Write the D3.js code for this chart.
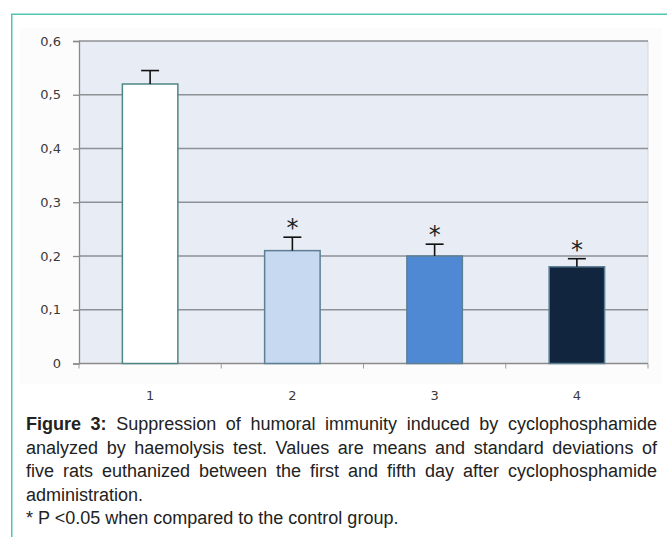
<!DOCTYPE html>
<html>
<head>
<meta charset="utf-8">
<script src="https://cdn.jsdelivr.net/npm/d3@7"></script>
<style>
  html, body { margin: 0; padding: 0; background: #ffffff; }
  svg { display: block; }
</style>
</head>
<body>
<svg id="chart" width="667" height="537"></svg>
<script>
// Haemolysis test results per group
const groups = ["1", "2", "3", "4"];
const means = [0.52, 0.21, 0.20, 0.18];
const sds = [0.025, 0.025, 0.022, 0.015];
const significant = [false, true, true, true];
const barColors = ["#ffffff", "#c6d9f1", "#4f88d3", "#11253f"];
const yTickValues = [0, 0.1, 0.2, 0.3, 0.4, 0.5, 0.6];
const yTickLabels = ["0", "0,1", "0,2", "0,3", "0,4", "0,5", "0,6"];

const captionLines = [
  { bold: "Figure 3:", text: " Suppression of humoral immunity induced by cyclophosphamide", justify: true },
  { bold: "", text: "analyzed by haemolysis test. Values are means and standard deviations of", justify: true },
  { bold: "", text: "five rats euthanized between the first and fifth day after cyclophosphamide", justify: true },
  { bold: "", text: "administration.", justify: false },
  { bold: "", text: "* P <0.05 when compared to the control group.", justify: false }
];

const svg = d3.select("#chart");

// Teal frame around the figure (top and left edges)
svg.append("path")
  .attr("d", "M11.75,537 V14.25 H667")
  .attr("fill", "none")
  .attr("stroke", "#52c4b2")
  .attr("stroke-width", 1.5);

// Faint chart area
svg.append("rect")
  .attr("x", 20).attr("y", 28).attr("width", 642).attr("height", 356)
  .attr("fill", "#fdfcfc");

const plot = { left: 79, right: 648, top: 41, bottom: 363.5 };

const x = d3.scaleBand()
  .domain(groups)
  .range([plot.left, plot.right])
  .paddingInner(0.61)
  .paddingOuter(0.305);

const y = d3.scaleLinear()
  .domain([0, 0.6])
  .range([plot.bottom, plot.top]);

const step = x.step();

// Plot background
svg.append("rect")
  .attr("x", plot.left).attr("y", plot.top)
  .attr("width", plot.right - plot.left).attr("height", plot.bottom - plot.top)
  .attr("fill", "#e8edf5");

// Right border of the plot area
svg.append("line")
  .attr("x1", plot.right).attr("x2", plot.right)
  .attr("y1", plot.top).attr("y2", plot.bottom)
  .attr("stroke", "#d4d8de").attr("stroke-width", 1);

// Horizontal gridlines
svg.append("g")
  .selectAll("line")
  .data(yTickValues.filter(v => v > 0))
  .join("line")
  .attr("x1", plot.left).attr("x2", plot.right)
  .attr("y1", d => y(d)).attr("y2", d => y(d))
  .attr("stroke", "#8e9196")
  .attr("stroke-width", 1.4);

// Y axis
const yAxis = d3.axisLeft(y)
  .tickValues(yTickValues)
  .tickFormat((d, i) => yTickLabels[i])
  .tickSize(6)
  .tickPadding(12);

const gy = svg.append("g")
  .attr("transform", `translate(${plot.left},0)`)
  .call(yAxis);
gy.select(".domain").attr("stroke", "#8a8a8a").attr("stroke-width", 1.3);
gy.selectAll(".tick line").attr("stroke", "#8a8a8a").attr("stroke-width", 1.3);
gy.selectAll(".tick text")
  .attr("fill", "#3a3a3a")
  .style("font-family", "'DejaVu Sans', sans-serif")
  .style("font-size", "13px");

// X axis baseline with tick marks at category boundaries
const gx = svg.append("g");
gx.append("line")
  .attr("x1", plot.left).attr("x2", plot.right)
  .attr("y1", plot.bottom).attr("y2", plot.bottom)
  .attr("stroke", "#8a8a8a").attr("stroke-width", 1.3);
gx.selectAll("line.bound")
  .data(d3.range(groups.length + 1))
  .join("line")
  .attr("class", "bound")
  .attr("x1", i => plot.left + i * step).attr("x2", i => plot.left + i * step)
  .attr("y1", plot.bottom).attr("y2", plot.bottom + 5)
  .attr("stroke", "#9a9a9a").attr("stroke-width", 1);
gx.selectAll("text")
  .data(groups)
  .join("text")
  .attr("x", d => x(d) + x.bandwidth() / 2)
  .attr("y", plot.bottom + 36)
  .attr("text-anchor", "middle")
  .attr("fill", "#3a3a3a")
  .style("font-family", "'DejaVu Sans', sans-serif")
  .style("font-size", "13px")
  .text(d => d);

// Bars
svg.append("g")
  .selectAll("rect")
  .data(groups)
  .join("rect")
  .attr("x", d => x(d))
  .attr("y", (d, i) => y(means[i]))
  .attr("width", x.bandwidth())
  .attr("height", (d, i) => y(0) - y(means[i]))
  .attr("fill", (d, i) => barColors[i])
  .attr("stroke", (d, i) => i === 0 ? "#4f8585" : "#5d7f93")
  .attr("stroke-width", 1.5);

// Error bars (upper half only)
const capHalf = 9;
const err = svg.append("g").attr("stroke", "#111").attr("stroke-width", 1.6);
groups.forEach((g, i) => {
  const cx = x(g) + x.bandwidth() / 2;
  err.append("line")
    .attr("x1", cx).attr("x2", cx)
    .attr("y1", y(means[i])).attr("y2", y(means[i] + sds[i]));
  err.append("line")
    .attr("x1", cx - capHalf).attr("x2", cx + capHalf)
    .attr("y1", y(means[i] + sds[i])).attr("y2", y(means[i] + sds[i]));
});

// Significance markers
svg.append("g")
  .selectAll("text")
  .data(groups.filter((g, i) => significant[i]))
  .join("text")
  .attr("x", g => x(g) + x.bandwidth() / 2)
  .attr("y", g => { const i = groups.indexOf(g); return y(means[i] + sds[i]) - 1; })
  .attr("text-anchor", "middle")
  .attr("fill", "#222")
  .style("font-family", "'DejaVu Sans', sans-serif")
  .style("font-size", "24px")
  .text("*");

// Caption, justified to the column width
const capLeft = 26, capRight = 657, capTop = 430, lineH = 23.5;
const cap = svg.append("g")
  .style("font-family", "'Liberation Sans', Arial, sans-serif")
  .style("font-size", "18px")
  .attr("fill", "#222");

captionLines.forEach((ln, k) => {
  const t = cap.append("text")
    .attr("x", capLeft)
    .attr("y", capTop + k * lineH);
  if (ln.bold) t.append("tspan").attr("font-weight", "bold").text(ln.bold);
  t.append("tspan").text(ln.text);
  if (ln.justify) {
    const full = ln.bold + ln.text;
    const spaces = (full.match(/ /g) || []).length;
    const natural = t.node().getComputedTextLength();
    const extra = (capRight - capLeft - natural) / spaces;
    t.attr("word-spacing", extra);
  }
});
</script>
</body>
</html>
